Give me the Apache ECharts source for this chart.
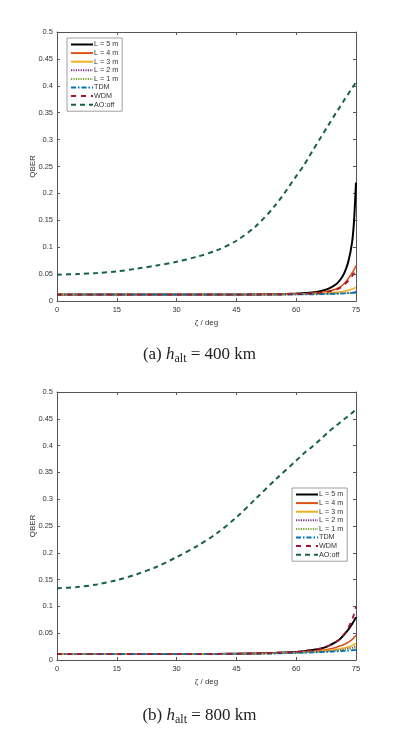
<!DOCTYPE html>
<html>
<head>
<meta charset="utf-8">
<title>QBER vs zenith angle</title>
<script src="https://cdn.jsdelivr.net/npm/echarts@6/dist/echarts.min.js"></script>
<style>
  html, body { margin: 0; padding: 0; background: #fff; }
  #main { width: 399px; height: 731px; }
</style>
</head>
<body>
<div id="main"></div>
<script type="text/javascript">
// zenith angle samples (deg)
var zeta = [0, 5, 10, 15, 20, 25, 30, 35, 40, 45, 50, 55, 60, 62, 64, 66, 68, 70, 71, 72, 73, 74, 74.5, 75];

// (a) h_alt = 400 km
var aL5  = [0.012,0.012,0.012,0.012,0.012,0.012,0.012,0.012,0.012,0.012,0.0122,0.0127,0.0138,0.0147,0.0158,0.0182,0.0225,0.031,0.039,0.051,0.071,0.108,0.148,0.22];
var aL4  = [0.012,0.012,0.012,0.012,0.012,0.012,0.012,0.012,0.012,0.012,0.0121,0.0124,0.013,0.0135,0.0142,0.0155,0.018,0.0225,0.026,0.032,0.041,0.052,0.058,0.066];
var aL3  = [0.012,0.012,0.012,0.012,0.012,0.012,0.012,0.012,0.012,0.012,0.012,0.0121,0.0125,0.0128,0.0132,0.0138,0.0148,0.016,0.017,0.018,0.0195,0.022,0.0235,0.025];
var aL2  = [0.012,0.012,0.012,0.012,0.012,0.012,0.012,0.012,0.012,0.012,0.012,0.012,0.0122,0.0124,0.0127,0.013,0.0134,0.014,0.0142,0.0145,0.015,0.016,0.017,0.018];
var aL1  = [0.012,0.012,0.012,0.012,0.012,0.012,0.012,0.012,0.012,0.012,0.012,0.012,0.0121,0.0123,0.0125,0.0128,0.0131,0.0136,0.0138,0.0141,0.0145,0.0152,0.0158,0.0165];
var aTDM = [0.012,0.012,0.012,0.012,0.012,0.012,0.012,0.012,0.012,0.012,0.012,0.012,0.0122,0.0123,0.0125,0.0127,0.0131,0.0135,0.0137,0.014,0.0145,0.015,0.0152,0.0155];
var aWDM = [0.012,0.012,0.012,0.012,0.012,0.012,0.012,0.012,0.012,0.012,0.0121,0.0124,0.013,0.0134,0.014,0.0152,0.0173,0.021,0.024,0.030,0.037,0.046,0.052,0.058];
var aAO  = [0.049,0.050,0.052,0.055,0.060,0.066,0.073,0.082,0.094,0.112,0.140,0.180,0.232,0.253,0.278,0.302,0.326,0.350,0.361,0.373,0.384,0.396,0.401,0.407];

// (b) h_alt = 800 km
var bL5  = [0.011,0.011,0.011,0.011,0.011,0.011,0.011,0.011,0.0113,0.0118,0.0125,0.0135,0.015,0.0165,0.0185,0.021,0.026,0.034,0.039,0.047,0.056,0.067,0.073,0.08];
var bL4  = [0.011,0.011,0.011,0.011,0.011,0.011,0.011,0.011,0.0112,0.0116,0.0122,0.013,0.0142,0.015,0.016,0.0175,0.02,0.0235,0.026,0.029,0.033,0.038,0.042,0.046];
var bL3  = [0.011,0.011,0.011,0.011,0.011,0.011,0.011,0.011,0.0111,0.0114,0.0119,0.0127,0.0138,0.0144,0.015,0.016,0.0175,0.0195,0.021,0.0225,0.024,0.027,0.029,0.031];
var bL2  = [0.011,0.011,0.011,0.011,0.011,0.011,0.011,0.011,0.0111,0.0113,0.0118,0.0125,0.0134,0.0139,0.0145,0.0152,0.0163,0.018,0.019,0.02,0.0215,0.023,0.0245,0.026];
var bL1  = [0.011,0.011,0.011,0.011,0.011,0.011,0.011,0.011,0.0111,0.0113,0.0117,0.0123,0.0132,0.0136,0.0141,0.0147,0.0156,0.017,0.0178,0.0187,0.0198,0.021,0.022,0.023];
var bTDM = [0.011,0.011,0.011,0.011,0.011,0.011,0.011,0.011,0.011,0.0112,0.0116,0.0122,0.0135,0.0138,0.0142,0.0148,0.0154,0.016,0.0165,0.017,0.0175,0.018,0.0185,0.019];
var bWDM = [0.011,0.011,0.011,0.011,0.011,0.011,0.011,0.011,0.0113,0.0118,0.0125,0.0135,0.015,0.0165,0.0185,0.021,0.026,0.034,0.039,0.048,0.059,0.075,0.086,0.1];
var bAO  = [0.134,0.136,0.141,0.149,0.160,0.174,0.192,0.212,0.236,0.266,0.302,0.338,0.372,0.386,0.398,0.411,0.425,0.437,0.443,0.449,0.455,0.461,0.464,0.467];

var names = ['L = 5 m', 'L = 4 m', 'L = 3 m', 'L = 2 m', 'L = 1 m', 'TDM', 'WDM', 'AO:off'];
var xTicks = [0, 75, 15];       // min, max, interval
var yTicks = [0, 0.5, 0.05];

var styles = [
  { color: '#000000', width: 2,   type: 'solid' },
  { color: '#D95319', width: 1.6, type: 'solid' },
  { color: '#EDB120', width: 1.6, type: 'solid' },
  { color: '#7E2F8E', width: 1.4, type: [1.2, 1.2] },
  { color: '#77AC30', width: 1.4, type: [1.2, 1.2] },
  { color: '#0072BD', width: 1.8, type: [5, 2, 1.5, 2] },
  { color: '#A2142F', width: 1.8, type: [5, 5] },
  { color: '#17614A', width: 2,   type: [5, 4] }
];

function pairs(v) {
  return zeta.map(function (z, i) { return [z, v[i]]; });
}

var chart = echarts.init(document.getElementById('main'));
var font = 'Liberation Sans, Arial, sans-serif';
var axisCol = '#555';
var txtCol = '#333';

function mainX(gi) {
  return {
    type: 'value', gridIndex: gi, min: xTicks[0], max: xTicks[1], interval: xTicks[2],
    name: 'ζ / deg', nameLocation: 'middle', nameGap: 18, nameMoveOverlap: false,
    nameTextStyle: { fontSize: 8, color: txtCol, fontFamily: font },
    axisLine: { onZero: false, lineStyle: { color: axisCol, width: 1 } },
    axisTick: { inside: true, length: 3, lineStyle: { color: axisCol } },
    axisLabel: { fontSize: 7.5, color: txtCol, fontFamily: font, margin: 5 },
    splitLine: { show: false }
  };
}
function mainY(gi) {
  return {
    type: 'value', gridIndex: gi, min: yTicks[0], max: yTicks[1], interval: yTicks[2],
    name: 'QBER', nameLocation: 'middle', nameGap: 20.5, nameRotate: 90, nameMoveOverlap: false,
    nameTextStyle: { fontSize: 8, color: txtCol, fontFamily: font },
    axisLine: { onZero: false, lineStyle: { color: axisCol, width: 1 } },
    axisTick: { inside: true, length: 3, lineStyle: { color: axisCol } },
    axisLabel: { fontSize: 7.5, color: txtCol, fontFamily: font, margin: 4 },
    splitLine: { show: false }
  };
}
function boxX(gi) {
  return {
    type: 'value', gridIndex: gi, position: 'top', min: xTicks[0], max: xTicks[1], interval: xTicks[2],
    axisLine: { onZero: false, lineStyle: { color: axisCol, width: 1 } },
    axisTick: { inside: true, length: 3, lineStyle: { color: axisCol } },
    axisLabel: { show: false }, splitLine: { show: false }
  };
}
function boxY(gi) {
  return {
    type: 'value', gridIndex: gi, position: 'right', min: yTicks[0], max: yTicks[1], interval: yTicks[2],
    axisLine: { onZero: false, lineStyle: { color: axisCol, width: 1 } },
    axisTick: { inside: true, length: 3, lineStyle: { color: axisCol } },
    axisLabel: { show: false }, splitLine: { show: false }
  };
}

var series = [];
var setA = [aL5, aL4, aL3, aL2, aL1, aTDM, aWDM, aAO];
var setB = [bL5, bL4, bL3, bL2, bL1, bTDM, bWDM, bAO];
[setA, setB].forEach(function (set, gi) {
  set.forEach(function (vals, k) {
    series.push({
      name: names[k], type: 'line', xAxisIndex: gi * 2, yAxisIndex: gi * 2,
      data: pairs(vals), showSymbol: false, symbol: 'none',
      smooth: 0.3,
      lineStyle: { color: styles[k].color, width: styles[k].width, type: styles[k].type },
      itemStyle: { color: styles[k].color },
      animation: false
    });
  });
});

function legend(left, top) {
  return {
    data: names, orient: 'vertical', left: left, top: top,
    itemWidth: 22, itemHeight: 7, itemGap: 1.6,
    padding: [3, 4, 3, 3],
    backgroundColor: '#fff', borderColor: '#888', borderWidth: 0.8,
    itemStyle: { opacity: 0 },
    textStyle: { fontSize: 7.2, color: txtCol, fontFamily: font, padding: [0, 0, 0, -4] },
    selectedMode: false
  };
}

var serif = 'Liberation Serif, DejaVu Serif, serif';
function caption(tag, km, top) {
  return {
    text: '(' + tag + ') {i|h}{s|alt} = ' + km + ' km',
    left: 'center', top: top,
    textStyle: {
      fontFamily: serif, fontSize: 17, fontWeight: 'normal', color: '#222',
      rich: {
        i: { fontFamily: serif, fontSize: 17, fontStyle: 'italic', color: '#222', lineHeight: 20 },
        s: { fontFamily: serif, fontSize: 12, color: '#222', lineHeight: 10, verticalAlign: 'bottom' }
      }
    }
  };
}

chart.setOption({
  backgroundColor: '#fff',
  animation: false,
  title: [caption('a', 400, 340), caption('b', 800, 701)],
  grid: [
    { left: 57, top: 32, width: 299, height: 269, show: false },
    { left: 57, top: 392, width: 299, height: 268, show: false }
  ],
  xAxis: [mainX(0), boxX(0), mainX(1), boxX(1)],
  yAxis: [mainY(0), boxY(0), mainY(1), boxY(1)],
  legend: [legend(67, 38), legend(292, 488)],
  series: series
});
</script>
</body>
</html>
